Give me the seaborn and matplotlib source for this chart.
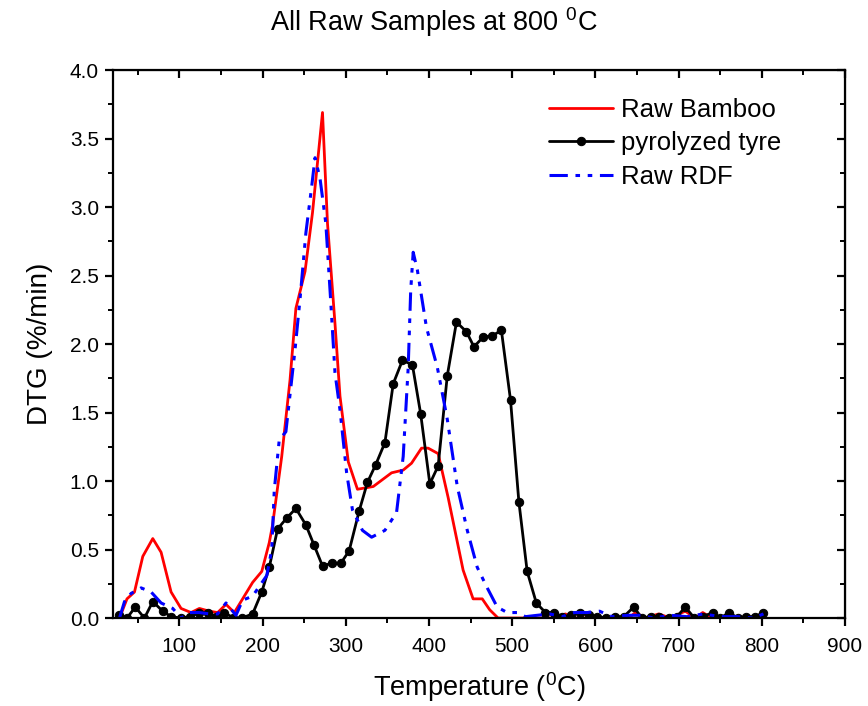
import numpy as np
import pandas as pd
import matplotlib
matplotlib.use("Agg")
import matplotlib.pyplot as plt
import seaborn as sns
from matplotlib.ticker import MultipleLocator

# Raw Bamboo
bamboo_t = [28, 37, 46, 56, 68, 78, 90, 102, 114, 124, 136, 146, 156, 166, 188, 199, 208,
            212, 223, 233, 240, 251, 260, 272, 278, 287, 293, 303, 314, 333, 355, 369, 379,
            391, 399, 411, 423, 441, 453, 464, 473, 483, 550, 564, 575, 640, 648, 660, 676,
            690, 708, 720, 729, 740]
bamboo_v = [0.0, 0.14, 0.19, 0.45, 0.58, 0.48, 0.19, 0.07, 0.04, 0.07, 0.05, 0.04, 0.10, 0.04,
            0.26, 0.34, 0.55, 0.68, 1.18, 1.74, 2.26, 2.53, 2.96, 3.69, 2.88, 2.15, 1.62, 1.14,
            0.94, 0.96, 1.06, 1.08, 1.13, 1.24, 1.24, 1.20, 0.88, 0.35, 0.14, 0.14, 0.06, 0.0,
            0.0, 0.03, 0.0, 0.0, 0.04, 0.0, 0.03, 0.0, 0.05, 0.0, 0.04, 0.0]

# pyrolyzed tyre
tyre_t = [28, 37, 47, 58, 68, 80, 90, 102, 113, 124, 134, 144, 154, 165, 175, 188, 199, 208,
          218, 229, 240, 252, 262, 272, 283, 294, 304, 316, 326, 336, 347, 357, 368, 380,
          390, 401, 411, 422, 433, 445, 454, 465, 476, 487, 498, 508, 518, 529, 540, 550,
          560, 571, 581, 592, 602, 613, 623, 634, 646, 656, 667, 677, 688, 698, 708, 719,
          729, 741, 750, 761, 771, 781, 792, 802]
tyre_v = [0.02, 0.0, 0.08, 0.0, 0.12, 0.05, 0.01, 0.0, 0.01, 0.04, 0.04, 0.01, 0.04, 0.0, 0.0,
          0.03, 0.19, 0.37, 0.65, 0.73, 0.80, 0.68, 0.53, 0.38, 0.40, 0.40, 0.49, 0.78, 0.99,
          1.12, 1.28, 1.71, 1.88, 1.85, 1.49, 0.98, 1.11, 1.77, 2.16, 2.09, 1.98, 2.05, 2.06,
          2.10, 1.59, 0.85, 0.34, 0.11, 0.04, 0.04, 0.01, 0.02, 0.04, 0.02, 0.01, 0.0, 0.01,
          0.01, 0.08, 0.0, 0.01, 0.01, 0.0, 0.01, 0.08, 0.0, 0.01, 0.04, 0.0, 0.04, 0.0, 0.01,
          0.01, 0.04]

# Raw RDF
rdf_t = [28, 34, 42, 54, 66, 78, 92, 102, 112, 124, 136, 146, 156, 168, 176, 188, 205, 211,
         214, 220, 228, 239, 245, 252, 259, 263, 269, 276, 282, 287, 293, 301, 308, 320, 331,
         347, 361, 369, 375, 378, 381, 386, 397, 410, 422, 434, 446, 458, 470, 482, 494, 506,
         516, 530, 545, 560, 575, 590, 605, 620, 640, 655, 670, 690, 710, 730, 750, 770, 790,
         802]
rdf_v = [0.0, 0.12, 0.18, 0.22, 0.19, 0.11, 0.07, 0.0, 0.04, 0.04, 0.03, 0.03, 0.11, 0.02,
         0.13, 0.16, 0.31, 0.50, 0.93, 1.30, 1.36, 1.96, 2.33, 2.81, 3.15, 3.36, 3.21, 2.88,
         2.30, 1.79, 1.52, 1.06, 0.79, 0.64, 0.59, 0.64, 0.77, 1.18, 1.83, 2.39, 2.67, 2.54,
         2.12, 1.83, 1.45, 0.96, 0.64, 0.37, 0.22, 0.08, 0.04, 0.04, 0.01, 0.02, 0.03, 0.01,
         0.04, 0.04, 0.05, 0.01, 0.02, 0.02, 0.0, 0.02, 0.01, 0.03, 0.01, 0.01, 0.0, 0.03]

sns.set_style("ticks")
plt.rcParams["font.family"] = ["Liberation Sans", "DejaVu Sans"]
plt.rcParams["mathtext.fontset"] = "custom"
plt.rcParams["mathtext.rm"] = "Liberation Sans"
plt.rcParams["mathtext.it"] = "Liberation Sans:italic"
for key in ["text.color", "axes.labelcolor", "xtick.color", "ytick.color", "axes.edgecolor"]:
    plt.rcParams[key] = "black"

fig = plt.figure(figsize=(8.68, 7.06), dpi=100)
ax = fig.add_axes([0.130, 0.1246, 0.8435, 0.7762])

sns.lineplot(x=bamboo_t, y=bamboo_v, ax=ax, color="#ff0000", lw=2, label="Raw Bamboo")
sns.lineplot(x=tyre_t, y=tyre_v, ax=ax, color="black", lw=2, marker="o", markersize=6,
             markeredgecolor="black", label="pyrolyzed tyre")
sns.lineplot(x=rdf_t, y=rdf_v, ax=ax, color="#0000ff", lw=2.2,
             linestyle=(0, (6, 2.5, 1.5, 2.5, 1.5, 2.5)), label="Raw RDF")

ax.set_xlim(20, 900)
ax.set_ylim(0, 4.0)
ax.xaxis.set_major_locator(MultipleLocator(100))
ax.xaxis.set_minor_locator(MultipleLocator(50))
ax.yaxis.set_major_locator(MultipleLocator(0.5))
ax.yaxis.set_minor_locator(MultipleLocator(0.25))
ax.yaxis.set_major_formatter(matplotlib.ticker.FormatStrFormatter("%.1f"))

for s in ax.spines.values():
    s.set_visible(True)
    s.set_linewidth(1.6)
ax.tick_params(which="major", direction="out", length=6, width=1.6, labelsize=15, pad=4)
ax.tick_params(axis="x", which="major", pad=8)
ax.tick_params(which="minor", direction="out", length=3.5, width=1.4)

# inward ticks on top and right
top = ax.secondary_xaxis("top")
top.xaxis.set_major_locator(MultipleLocator(100))
top.xaxis.set_minor_locator(MultipleLocator(50))
top.tick_params(which="major", direction="in", length=6, width=1.6, labeltop=False)
top.tick_params(which="minor", direction="in", length=3.5, width=1.4)
right = ax.secondary_yaxis("right")
right.yaxis.set_major_locator(MultipleLocator(0.5))
right.yaxis.set_minor_locator(MultipleLocator(0.25))
right.tick_params(which="major", direction="in", length=6, width=1.6, labelright=False)
right.tick_params(which="minor", direction="in", length=3.5, width=1.4)

ax.set_xlabel(r"Temperature ($^{0}$C)", fontsize=19.5, labelpad=10)
ax.set_ylabel("DTG (%/min)", fontsize=20, labelpad=12)
fig.suptitle(r"All Raw Samples at 800 $^{0}$C", fontsize=19.5, y=0.968, va="center")

ax.legend(loc="upper left", bbox_to_anchor=(0.578, 0.972), frameon=False, fontsize=18.5,
          handlelength=2.5, labelspacing=0.36, borderpad=0, handletextpad=0.3)

plt.savefig("out.png", dpi=100)
